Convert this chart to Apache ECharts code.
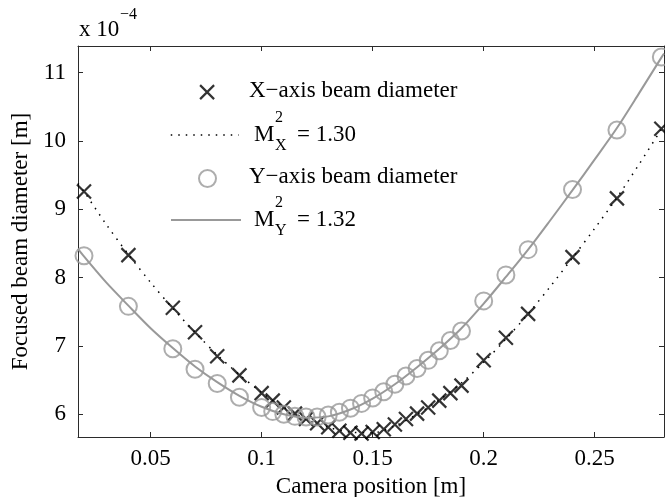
<!DOCTYPE html>
<html>
<head>
<meta charset="utf-8">
<script src="https://cdn.jsdelivr.net/npm/echarts@6/dist/echarts.min.js"></script>
<style>html,body{margin:0;padding:0;background:#fff;}#c{width:665px;height:497px;}</style>
</head>
<body>
<div id="c"></div>
<script>
// ---- data (diameters in units of 1e-4 m) ----
const positions = [0.02,0.04,0.06,0.07,0.08,0.09,0.10,0.105,0.11,0.115,0.12,0.125,0.13,0.135,0.14,0.145,0.15,0.155,0.16,0.165,0.17,0.175,0.18,0.185,0.19,0.20,0.21,0.22,0.24,0.26,0.28];
const xBeam = [9.26,8.33,7.56,7.20,6.85,6.57,6.31,6.20,6.10,6.01,5.93,5.87,5.81,5.76,5.73,5.72,5.74,5.78,5.85,5.93,6.01,6.10,6.20,6.31,6.42,6.79,7.12,7.47,8.30,9.16,10.18];
const yBeam = [8.32,7.58,6.96,6.66,6.45,6.25,6.10,6.04,6.00,5.97,5.96,5.96,5.99,6.03,6.09,6.16,6.24,6.33,6.44,6.56,6.67,6.79,6.93,7.08,7.22,7.66,8.04,8.41,9.29,10.16,11.23];
const fitPositions = [0.0173,0.02,0.03,0.04,0.05,0.06,0.07,0.08,0.09,0.10,0.11,0.12,0.13,0.14,0.15,0.16,0.17,0.18,0.19,0.20,0.21,0.22,0.23,0.24,0.25,0.26,0.27,0.28,0.2812];
const xFit = [9.38,9.26,8.78,8.34,7.93,7.55,7.20,6.87,6.58,6.32,6.10,5.93,5.81,5.74,5.73,5.83,6.00,6.21,6.46,6.76,7.10,7.47,7.87,8.29,8.72,9.17,9.66,10.17,10.23];
const yFit = [8.42,8.31,7.93,7.59,7.26,6.97,6.70,6.47,6.27,6.11,6.00,5.95,5.97,6.07,6.23,6.44,6.69,6.96,7.26,7.62,8.01,8.41,8.84,9.28,9.73,10.19,10.70,11.22,11.28];
const xTicks = [0.05,0.1,0.15,0.2,0.25];
const yTicks = [6,7,8,9,10,11];
const xLabel = 'Camera position [m]';
const yLabel = 'Focused beam diameter [m]';
const legendTexts = ['X\u2212axis beam diameter', 'Y\u2212axis beam diameter'];
const m2Values = ['= 1.30', '= 1.32'];
const m2Subs = ['X', 'Y'];

const FONT = 'Liberation Serif';
const GRAY = '#999999';
const AX = '#2b2b2b';
const CROSS = 'path://M0,0L10,10M10,0L0,10';

const zip = (a, b) => a.map((v, i) => [v, b[i]]);

const chart = echarts.init(document.getElementById('c'), null, {renderer: 'canvas'});

const xAxisBase = {
  type: 'value', min: 0.0173, max: 0.2812,
  splitLine: {show: false},
  axisLine: {show: true, lineStyle: {color: AX, width: 1}},
  axisTick: {show: true, inside: true, length: 5, customValues: xTicks, lineStyle: {color: AX, width: 1}}
};
const yAxisBase = {
  type: 'value', min: 5.668, max: 11.39,
  splitLine: {show: false},
  axisLine: {show: true, lineStyle: {color: AX, width: 1}},
  axisTick: {show: true, inside: true, length: 5, customValues: yTicks, lineStyle: {color: AX, width: 1}}
};

const legendCommon = {
  orient: 'vertical', padding: 0, selectedMode: false,
  formatter: () => '', textStyle: {fontSize: 1}
};

chart.setOption({
  animation: false,
  backgroundColor: '#fff',
  grid: {left: 78, right: 1, top: 46, bottom: 60, containLabel: false, outerBoundsMode: 'none'},
  xAxis: [
    Object.assign({}, xAxisBase, {
      position: 'bottom',
      name: xLabel, nameLocation: 'middle', nameGap: 38,
      nameTextStyle: {fontFamily: FONT, fontSize: 23, color: '#000'},
      axisLabel: {show: true, customValues: xTicks, margin: 10, fontFamily: FONT, fontSize: 23, color: '#000',
        formatter: v => String(+v.toFixed(2))}
    }),
    Object.assign({}, xAxisBase, {position: 'top', axisLabel: {show: false}})
  ],
  yAxis: [
    Object.assign({}, yAxisBase, {
      position: 'left',
      name: yLabel, nameLocation: 'middle', nameGap: 41, nameRotate: 90,
      nameTextStyle: {fontFamily: FONT, fontSize: 23, color: '#000'},
      axisLabel: {show: true, customValues: yTicks, margin: 12, fontFamily: FONT, fontSize: 23, color: '#000'}
    }),
    Object.assign({}, yAxisBase, {position: 'right', axisLabel: {show: false}})
  ],
  legend: [
    Object.assign({}, legendCommon, {data: ['xm'], left: 199, top: 84, itemWidth: 14, itemHeight: 14,
      itemStyle: {color: 'transparent', borderColor: '#000', borderWidth: 2.2}}),
    Object.assign({}, legendCommon, {data: ['xf'], left: 170, top: 128, itemWidth: 68, itemHeight: 14,
      itemStyle: {color: 'transparent', borderColor: 'transparent', borderWidth: 0},
      lineStyle: {color: '#000', width: 1.5, type: [1.5, 6]}}),
    Object.assign({}, legendCommon, {data: ['ym'], left: 198, top: 169, itemWidth: 17, itemHeight: 17,
      itemStyle: {color: 'transparent', borderColor: GRAY, borderWidth: 2}}),
    Object.assign({}, legendCommon, {data: ['yf'], left: 170, top: 213, itemWidth: 70, itemHeight: 14,
      itemStyle: {color: 'transparent', borderColor: 'transparent', borderWidth: 0},
      lineStyle: {color: GRAY, width: 2, type: 'solid'}})
  ],
  series: [
    {name: 'xm', type: 'scatter', data: zip(positions, xBeam), symbol: CROSS, symbolSize: 14,
      itemStyle: {color: 'transparent', borderColor: '#000', borderWidth: 2.2}, emphasis: {disabled: true}, z: 2},
    {name: 'xf', type: 'line', data: zip(fitPositions, xFit), smooth: 0.3, symbol: 'none', showSymbol: false,
      lineStyle: {color: '#000', width: 1.5, type: [1.5, 6]}, emphasis: {disabled: true}, z: 3},
    {name: 'ym', type: 'scatter', data: zip(positions, yBeam), symbol: 'circle', symbolSize: 17,
      itemStyle: {color: 'transparent', borderColor: GRAY, borderWidth: 2}, emphasis: {disabled: true}, z: 4},
    {name: 'yf', type: 'line', data: zip(fitPositions, yFit), smooth: 0.3, symbol: 'none', showSymbol: false,
      lineStyle: {color: GRAY, width: 2}, emphasis: {disabled: true}, z: 5}
  ],
  graphic: [
    {type: 'text', left: 79, top: 18, style: {text: 'x 10', font: '23px "Liberation Serif"', fill: '#000'}},
    {type: 'text', left: 120, top: 7, style: {text: '\u22124', font: '16px "Liberation Serif"', fill: '#000'}},
    {type: 'text', left: 249, top: 79, style: {text: legendTexts[0], font: '23px "Liberation Serif"', fill: '#000'}},
    {type: 'text', left: 254, top: 123, style: {text: 'M', font: '23px "Liberation Serif"', fill: '#000'}},
    {type: 'text', left: 275, top: 110, style: {text: '2', font: '16px "Liberation Serif"', fill: '#000'}},
    {type: 'text', left: 275, top: 138, style: {text: m2Subs[0], font: '16px "Liberation Serif"', fill: '#000'}},
    {type: 'text', left: 297, top: 123, style: {text: m2Values[0], font: '23px "Liberation Serif"', fill: '#000'}},
    {type: 'text', left: 249, top: 165, style: {text: legendTexts[1], font: '23px "Liberation Serif"', fill: '#000'}},
    {type: 'text', left: 254, top: 208, style: {text: 'M', font: '23px "Liberation Serif"', fill: '#000'}},
    {type: 'text', left: 275, top: 195, style: {text: '2', font: '16px "Liberation Serif"', fill: '#000'}},
    {type: 'text', left: 275, top: 223, style: {text: m2Subs[1], font: '16px "Liberation Serif"', fill: '#000'}},
    {type: 'text', left: 297, top: 208, style: {text: m2Values[1], font: '23px "Liberation Serif"', fill: '#000'}}
  ]
});
</script>
</body>
</html>
